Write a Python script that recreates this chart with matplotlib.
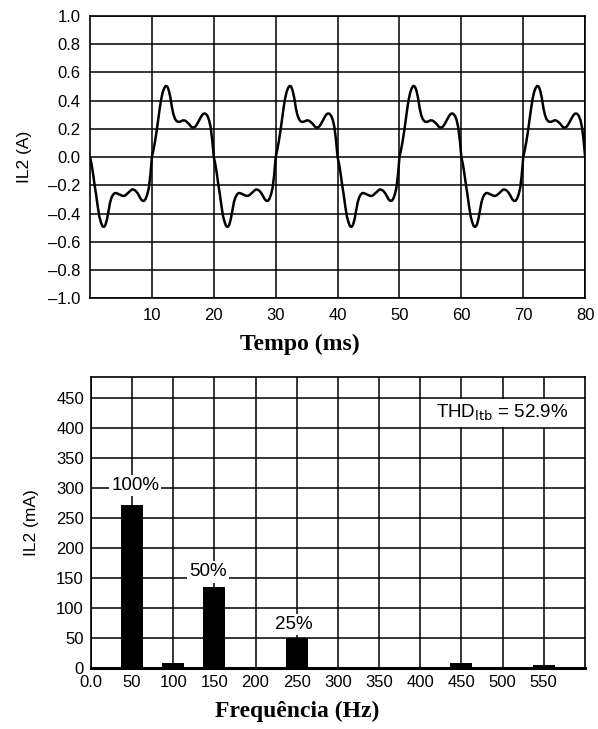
import numpy as np
import matplotlib.pyplot as plt

# Corrente IL2 no tempo: um periodo (20 ms), amostras de 0.25 ms
periodo_ms = 20.0
passo_ms = 0.25
il2_periodo = [
    # semiciclo negativo (0 a 10 ms)
    0.00, -0.05, -0.12, -0.20, -0.27, -0.35, -0.42, -0.46, -0.49, -0.495,
    -0.48, -0.44, -0.38, -0.32, -0.285, -0.265, -0.255, -0.255, -0.26, -0.265,
    -0.27, -0.275, -0.275, -0.27, -0.26, -0.25, -0.24, -0.23, -0.23, -0.235,
    -0.245, -0.26, -0.28, -0.30, -0.31, -0.31, -0.295, -0.265, -0.22, -0.13,
    # semiciclo positivo (10 a 20 ms)
    0.00, 0.05, 0.11, 0.18, 0.26, 0.34, 0.41, 0.46, 0.49, 0.505,
    0.50, 0.47, 0.42, 0.35, 0.30, 0.27, 0.255, 0.25, 0.25, 0.255,
    0.26, 0.26, 0.255, 0.245, 0.235, 0.22, 0.21, 0.21, 0.215, 0.23,
    0.25, 0.27, 0.29, 0.305, 0.31, 0.305, 0.29, 0.26, 0.21, 0.12,
]
n_periodos = 4

# Espectro
freq_hz = [50, 100, 150, 250, 450, 550]
il2_ma = [272, 8, 135, 50, 8, 5]
rotulos_pct = ['100%', '50%', '25%']
rotulos_x = [54, 142, 247]
rotulos_y = [304, 160, 73]
thd_texto = r'THD$_{\mathrm{ltb}}$ = 52.9%'

tempo_ticks = [10, 20, 30, 40, 50, 60, 70, 80]
il2_ticks = [-1.0, -0.8, -0.6, -0.4, -0.2, 0.0, 0.2, 0.4, 0.6, 0.8, 1.0]
freq_ticks = [0, 50, 100, 150, 200, 250, 300, 350, 400, 450, 500, 550]
freq_ticklabels = ['0.0'] + [str(f) for f in freq_ticks[1:]]
ma_ticks = [0, 50, 100, 150, 200, 250, 300, 350, 400, 450]

plt.rcParams['font.family'] = ['Liberation Sans', 'DejaVu Sans']

fig = plt.figure(figsize=(5.98, 7.29), dpi=100)

# ---- grafico superior: forma de onda ----
ax1 = fig.add_axes([0.1505, 0.591, 0.828, 0.387])
y = np.array(il2_periodo * n_periodos + [0.0])
t = np.arange(len(y)) * passo_ms
ax1.plot(t, y, color='black', lw=1.8, zorder=3)
ax1.set_xlim(0, periodo_ms * n_periodos)
ax1.set_ylim(-1.0, 1.0)
ax1.set_xticks(tempo_ticks)
ax1.set_yticks(il2_ticks)
ax1.set_yticklabels([f'{v:.1f}'.replace('-', '\u2013') for v in il2_ticks])
ax1.grid(True, color='black', lw=1.1)
ax1.tick_params(length=0, labelsize=12, pad=7)
ax1.set_ylabel('IL2 (A)', fontsize=12.5, labelpad=11)
ax1.set_xlabel('Tempo (ms)', family='Liberation Serif', fontweight='bold', fontsize=17)
ax1.xaxis.set_label_coords(0.424, -0.128)
for s in ax1.spines.values():
    s.set_linewidth(1.2)

# ---- grafico inferior: espectro ----
ax2 = fig.add_axes([0.152, 0.0837, 0.826, 0.3993])
ax2.set_axisbelow(True)
ax2.bar(freq_hz, il2_ma, width=27, color='black', zorder=3)
ax2.set_xlim(0, 600)
ax2.set_ylim(0, 485)
ax2.set_xticks(freq_ticks)
ax2.set_xticklabels(freq_ticklabels)
ax2.set_yticks(ma_ticks)
ax2.grid(True, color='black', lw=1.1)
ax2.tick_params(length=0, labelsize=12, pad=5)
ax2.set_ylabel('IL2 (mA)', fontsize=12.5, labelpad=12)
ax2.set_xlabel('Frequência (Hz)', family='Liberation Serif', fontweight='bold', fontsize=17)
ax2.xaxis.set_label_coords(0.417, -0.112)
for s in ax2.spines.values():
    s.set_linewidth(1.2)
ax2.spines['bottom'].set_linewidth(2.2)

caixa = dict(facecolor='white', edgecolor='none', pad=1.5)
for txt, xx, yy in zip(rotulos_pct, rotulos_x, rotulos_y):
    ax2.text(xx, yy, txt, ha='center', va='center', fontsize=13.5, bbox=caixa, zorder=4)
ax2.text(500, 425, thd_texto, ha='center', va='center', fontsize=13.5,
         bbox=dict(facecolor='white', edgecolor='none', pad=3), zorder=4)

plt.savefig('out.png', dpi=100, facecolor='white')
plt.close()
